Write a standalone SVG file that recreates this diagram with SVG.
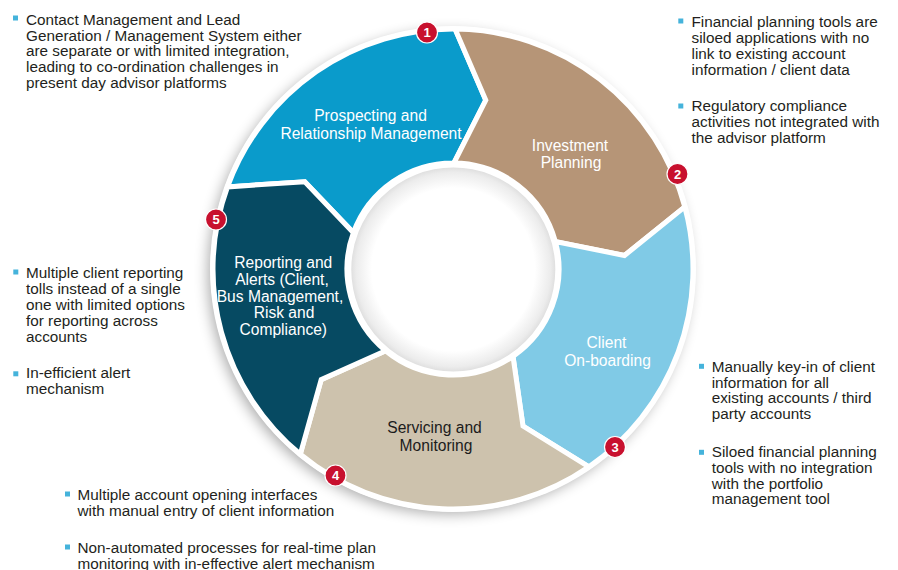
<svg xmlns="http://www.w3.org/2000/svg" width="898" height="570" viewBox="0 0 898 570">
<defs>
<filter id="blur" x="-20%" y="-20%" width="140%" height="140%"><feGaussianBlur stdDeviation="7"/></filter>
<radialGradient id="hole" cx="0.5" cy="0.5" r="0.5">
<stop offset="0" stop-color="#ffffff"/>
<stop offset="0.78" stop-color="#ffffff"/>
<stop offset="0.93" stop-color="#ececec"/>
<stop offset="1" stop-color="#d9d9d9"/>
</radialGradient>
<style>
.seg{stroke:#fff;stroke-width:5;stroke-linejoin:miter}
.lbl{font-family:"Liberation Sans",Arial,sans-serif;font-size:15.6px;text-anchor:middle;fill:#fff}
.dark{fill:#1c1c1c}
.txt{font-family:"Liberation Sans",Arial,sans-serif;font-size:15.3px;fill:#231F20}
.bul{fill:#45B3DB}
.badge circle{fill:#C8102E;stroke:#fff;stroke-width:1.2}
.badge text{font-family:"Liberation Sans",Arial,sans-serif;font-size:13px;font-weight:bold;fill:#fff;text-anchor:middle}
</style>
</defs>
<rect width="898" height="570" fill="#fff"/>
<circle cx="449" cy="273" r="241" fill="#000" opacity="0.33" filter="url(#blur)"/>
<circle cx="453" cy="269" r="243" fill="#fff"/>

<g id="seg1">
<path class="seg" fill="#0A9BCB" d="M227.5,186.9 A240,240 0 0 1 455.1,29 L485.8,100.2 L453.9,163 A106,106 0 0 0 353.4,232.7 L304.8,181.7 Z"/>
<text class="lbl" x="370.5" y="120.7">Prospecting and</text>
<text class="lbl" x="371" y="138.5">Relationship Management</text>
</g>
<g id="seg2">
<path class="seg" fill="#B69577" d="M455.1,29 A240,240 0 0 1 684.8,206.9 L624.5,255.5 L555.4,241.6 A106,106 0 0 0 453.9,163 L485.8,100.2 Z"/>
<text class="lbl" x="570" y="150.7">Investment</text>
<text class="lbl" x="571" y="168.3">Planning</text>
</g>
<g id="seg3">
<path class="seg" fill="#80CAE6" d="M684.8,206.9 A240,240 0 0 1 588.9,466.8 L523,426.1 L513,356.4 A106,106 0 0 0 555.4,241.6 L624.5,255.5 Z"/>
<text class="lbl" x="606.5" y="347.7">Client</text>
<text class="lbl" x="607.5" y="365.7">On-boarding</text>
</g>
<g id="seg4">
<path class="seg" fill="#CDC2AD" d="M588.9,466.8 A240,240 0 0 1 300.3,454.2 L321.2,379.6 L385.6,350.8 A106,106 0 0 0 513,356.4 L523,426.1 Z"/>
<text class="lbl dark" x="434.5" y="433.3">Servicing and</text>
<text class="lbl dark" x="436" y="451">Monitoring</text>
</g>
<g id="seg5">
<path class="seg" fill="#064A62" d="M300.3,454.2 A240,240 0 0 1 227.5,186.9 L304.8,181.7 L353.4,232.7 A106,106 0 0 0 385.6,350.8 L321.2,379.6 Z"/>
<text class="lbl" x="283.3" y="267.5">Reporting and</text>
<text class="lbl" x="282" y="285">Alerts (Client,</text>
<text class="lbl" x="280" y="301.7">Bus Management,</text>
<text class="lbl" x="284" y="318">Risk and</text>
<text class="lbl" x="283.3" y="334.5">Compliance)</text>
</g>

<circle id="hub" cx="453.3" cy="269.5" r="104.5" fill="url(#hole)" stroke="#fff" stroke-width="5"/>

<g id="badges">
<g class="badge"><circle cx="427" cy="32.5" r="10.5"/><text x="427" y="37.2">1</text></g>
<g class="badge"><circle cx="677.5" cy="174" r="10.5"/><text x="677.5" y="178.7">2</text></g>
<g class="badge"><circle cx="615" cy="447" r="10.5"/><text x="615" y="451.7">3</text></g>
<g class="badge"><circle cx="335.5" cy="475.5" r="10.5"/><text x="335.5" y="480.2">4</text></g>
<g class="badge"><circle cx="216" cy="219.5" r="10.5"/><text x="216" y="224.2">5</text></g>
</g>

<g id="note1">
<rect class="bul" x="13" y="15.5" width="5" height="5"/>
<text class="txt" x="26" y="24.5">Contact Management and Lead</text>
<text class="txt" x="26" y="40.5">Generation / Management System either</text>
<text class="txt" x="26" y="56.2">are separate or with limited integration,</text>
<text class="txt" x="26" y="72">leading to co-ordination challenges in</text>
<text class="txt" x="26" y="87.8">present day advisor platforms</text>
</g>
<g id="note2">
<rect class="bul" x="678.3" y="18.5" width="5" height="5"/>
<text class="txt" x="691.5" y="26.7">Financial planning tools are</text>
<text class="txt" x="691.5" y="42.7">siloed applications with no</text>
<text class="txt" x="691.5" y="58.6">link to existing account</text>
<text class="txt" x="691.5" y="74.5">information / client data</text>
<rect class="bul" x="678.3" y="103.5" width="5" height="5"/>
<text class="txt" x="691.5" y="111.3">Regulatory compliance</text>
<text class="txt" x="691.5" y="127.2">activities not integrated with</text>
<text class="txt" x="691.5" y="143">the advisor platform</text>
</g>
<g id="note5">
<rect class="bul" x="13.3" y="269.5" width="5" height="5"/>
<text class="txt" x="26" y="278.3">Multiple client reporting</text>
<text class="txt" x="26" y="294">tolls instead of a single</text>
<text class="txt" x="26" y="310">one with limited options</text>
<text class="txt" x="26" y="326">for reporting across</text>
<text class="txt" x="26" y="341.7">accounts</text>
<rect class="bul" x="13.3" y="371.3" width="5" height="5"/>
<text class="txt" x="26" y="378.4">In-efficient alert</text>
<text class="txt" x="26" y="394.2">mechanism</text>
</g>
<g id="note3">
<rect class="bul" x="699" y="363.8" width="5" height="5"/>
<text class="txt" x="711.7" y="371.8">Manually key-in of client</text>
<text class="txt" x="711.7" y="387.5">information for all</text>
<text class="txt" x="711.7" y="403.4">existing accounts / third</text>
<text class="txt" x="711.7" y="419.2">party accounts</text>
<rect class="bul" x="699" y="449.8" width="5" height="5"/>
<text class="txt" x="711.7" y="457.4">Siloed financial planning</text>
<text class="txt" x="711.7" y="473">tools with no integration</text>
<text class="txt" x="711.7" y="488.6">with the portfolio</text>
<text class="txt" x="711.7" y="504.4">management tool</text>
</g>
<g id="note4">
<rect class="bul" x="65" y="491.5" width="5" height="5"/>
<text class="txt" x="77.5" y="500">Multiple account opening interfaces</text>
<text class="txt" x="77.5" y="515.8">with manual entry of client information</text>
<rect class="bul" x="65" y="544.5" width="5" height="5"/>
<text class="txt" x="77.5" y="553.2">Non-automated processes for real-time plan</text>
<text class="txt" x="77.5" y="568.6">monitoring with in-effective alert mechanism</text>
</g>
</svg>
